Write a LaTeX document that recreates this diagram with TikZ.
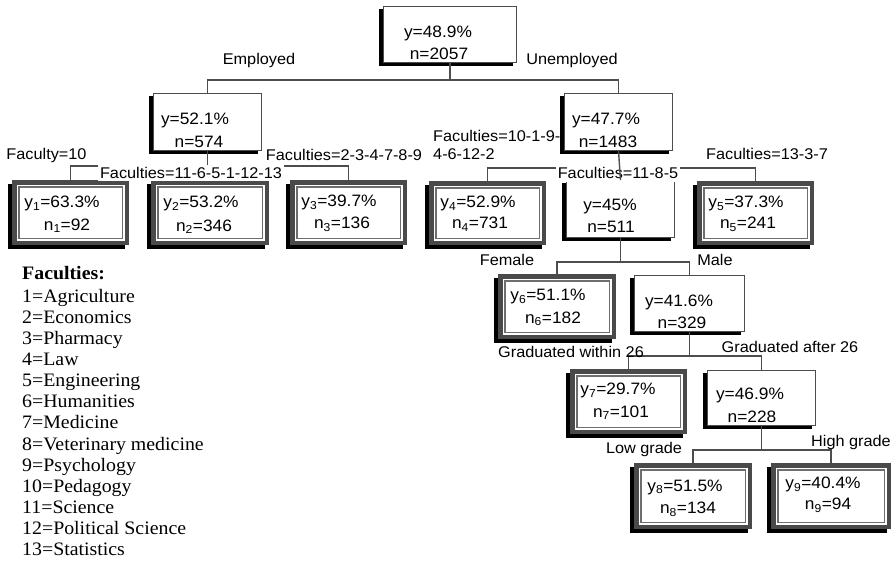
\documentclass[tikz,border=0pt]{standalone}
\usepackage{fontspec}
\setmainfont[FakeStretch=1.05]{Liberation Sans}
\newfontfamily\legfont[FakeStretch=1.045]{Liberation Serif}
\usetikzlibrary{fit,calc}
\definecolor{edge}{HTML}{4D4D4D}
\definecolor{framec}{HTML}{4A4A4A}
\definecolor{innerc}{HTML}{6E6E6E}
\tikzset{
  conn/.style={draw=edge, line width=1.4pt},
  plainb/.style={draw=edge, line width=1.3pt, fill=white, inner sep=0pt},
  leafb/.style={draw=framec, line width=4.5pt, fill=white, inner sep=0pt},
  txt/.style={font=\fontsize{16.5}{19}\selectfont, inner sep=0pt, anchor=base},
  lab/.style={font=\fontsize{15.5}{18}\selectfont, inner sep=0pt, anchor=base},
  labw/.style={lab, fill=white, inner xsep=2pt, inner ysep=2pt},
  leg/.style={font=\legfont\fontsize{19}{21}\selectfont, anchor=base west, inner sep=0pt},
  legb/.style={leg, font=\legfont\bfseries\fontsize{19}{21}\selectfont},
}
\newcommand\plainbox[5]{%
  \fill[black] (#2-4,#3+3) rectangle (#4-4,#5+3);
  \node[plainb, fit={(#2+0.65,#3+0.65) (#4-0.65,#5-0.65)}] (#1) {};
}
\newcommand\leafbox[5]{%
  \fill[black] (#2-4,#3+4) rectangle (#4-4,#5+4);
  \node[leafb, fit={(#2+2.25,#3+2.25) (#4-2.25,#5-2.25)}] (#1) {};
  \draw[innerc, line width=1.2pt] (#2+7,#3+7) rectangle (#4-6.5,#5-6.5);
}
\begin{document}
\begin{tikzpicture}[x=1pt, y=-1pt]
\fill[white] (0,0) rectangle (894,563);
\useasboundingbox (0,0) rectangle (894,563);

% bus levels
\coordinate (bus1) at (0,80);
\coordinate (bus2) at (0,166);
\coordinate (bus3) at (0,168);
\coordinate (bus4) at (0,262);
\coordinate (bus5) at (0,356);
\coordinate (bus6) at (0,450);

% boxes
\plainbox{root}{383}{6}{517}{63}
\plainbox{n52}{153}{93}{262}{151}
\plainbox{n47}{564}{93}{673}{151}
\plainbox{n45}{566}{180}{675}{238}
\plainbox{n416}{634}{275}{745}{332}
\plainbox{n469}{707}{370}{816}{426}
\leafbox{y1}{12}{180}{129}{245}
\leafbox{y2}{151}{180}{269}{245}
\leafbox{y3}{290}{180}{407}{245}
\leafbox{y4}{429}{181}{546}{245}
\leafbox{y5}{697}{181}{814}{245}
\leafbox{y6}{498}{274}{616}{339}
\leafbox{y7}{570}{369}{687}{434}
\leafbox{y8}{634}{463}{752}{529}
\leafbox{y9}{771}{463}{891}{529}

% connectors
\draw[conn] (root.south) -- (root.south |- bus1);
\draw[conn] (n52.north) -- (n52.north |- bus1) -- (n47.north |- bus1) -- (n47.north);

\draw[conn] (n52.south) -- (n52.south |- y2.north);
\draw[conn] (y1.north) -- (y1.north |- bus2) -- (y3.north |- bus2) -- (y3.north);

\draw[conn] (y4.north) -- (y4.north |- bus3) -- (y5.north |- bus3) -- (y5.north);

\draw[conn] (n45.south) -- (n45.south |- bus4);
\draw[conn] (y6.north) -- (y6.north |- bus4) -- (n416.north |- bus4) -- (n416.north);

\draw[conn] (n416.south) -- (n416.south |- bus5);
\draw[conn] (y7.north) -- (y7.north |- bus5) -- (n469.north |- bus5) -- (n469.north);

\draw[conn] (n469.south) -- (n469.south |- bus6);
\draw[conn] (y8.north) -- (y8.north |- bus6) -- (y9.north |- bus6) -- (y9.north);

% branch labels
\node[lab] (lEmp) at (259,64.5) {Employed};
\node[lab] (lUnemp) at (572,64.5) {Unemployed};
\node[lab] (lF10) at (46.5,159.5) {Faculty=10};
\node[labw] (lF11) at (191,178.5) {Faculties=11-6-5-1-12-13};
\node[lab] (lF2) at (344,160.5) {Faculties=2-3-4-7-8-9};
\node[lab, anchor=base west] (lF10a) at (433,141.5) {Faculties=10-1-9-};
\node[lab, anchor=base west] (lF10b) at (433,159.5) {4-6-12-2};
\node[lab] (lF13) at (767,159.5) {Faculties=13-3-7};
\node[labw, inner ysep=3.5pt] (lF118) at (618,178.5) {Faculties=11-8-5};
\draw[conn] (n47.south) -- (n45.north);
\node[lab] (lFem) at (507,265.5) {Female};
\node[lab] (lMale) at (715,265.5) {Male};
\node[lab] (lGw) at (571,357.5) {Graduated within 26};
\node[lab] (lGa) at (790,352.5) {Graduated after 26};
\node[lab] (lLow) at (644,453.5) {Low grade};
\node[lab] (lHigh) at (851,446.5) {High grade};

% box texts
\node[txt] (tr1) at (438,37) {y=48.9\%};
\node[txt] (tr2) at (439,59) {n=2057};
\node[txt] (t521) at (195,124.5) {y=52.1\%};
\node[txt] (t522) at (199,147) {n=574};
\node[txt] (t471) at (606,124) {y=47.7\%};
\node[txt] (t472) at (608,147) {n=1483};
\node[txt] (t451) at (610,210.5) {y=45\%};
\node[txt] (t452) at (611,232.5) {n=511};
\node[txt] (t4161) at (679,306.5) {y=41.6\%};
\node[txt] (t4162) at (682,328.5) {n=329};
\node[txt] (t4691) at (750,399.5) {y=46.9\%};
\node[txt] (t4692) at (752,422) {n=228};

\node[txt] (ty1a) at (62,207.5) {y\textsubscript{1}=63.3\%};
\node[txt] (ty1b) at (67,230) {n\textsubscript{1}=92};
\node[txt] (ty2a) at (201,207.5) {y\textsubscript{2}=53.2\%};
\node[txt] (ty2b) at (204,231) {n\textsubscript{2}=346};
\node[txt] (ty3a) at (339,206.5) {y\textsubscript{3}=39.7\%};
\node[txt] (ty3b) at (342,228.5) {n\textsubscript{3}=136};
\node[txt] (ty4a) at (478,207.5) {y\textsubscript{4}=52.9\%};
\node[txt] (ty4b) at (480,228.5) {n\textsubscript{4}=731};
\node[txt] (ty5a) at (746,207.5) {y\textsubscript{5}=37.3\%};
\node[txt] (ty5b) at (748,228.5) {n\textsubscript{5}=241};
\node[txt] (ty6a) at (548,300.5) {y\textsubscript{6}=51.1\%};
\node[txt] (ty6b) at (553,323) {n\textsubscript{6}=182};
\node[txt] (ty7a) at (618,394.5) {y\textsubscript{7}=29.7\%};
\node[txt] (ty7b) at (621,417) {n\textsubscript{7}=101};
\node[txt] (ty8a) at (685,491) {y\textsubscript{8}=51.5\%};
\node[txt] (ty8b) at (688,513.5) {n\textsubscript{8}=134};
\node[txt] (ty9a) at (823,488.5) {y\textsubscript{9}=40.4\%};
\node[txt] (ty9b) at (828,509.5) {n\textsubscript{9}=94};

% legend
\node[legb] (legT) at (22,279) {Faculties:};
\foreach \i/\t in {1/Agriculture,2/Economics,3/Pharmacy,4/Law,5/Engineering,6/Humanities,7/Medicine,8/Veterinary medicine,9/Psychology,10/Pedagogy,11/Science,12/Political Science,13/Statistics}{
  \node[leg] (leg\i) at (22,{302.3+(\i-1)*21.1}) {\i=\t};
}
\end{tikzpicture}
\end{document}
